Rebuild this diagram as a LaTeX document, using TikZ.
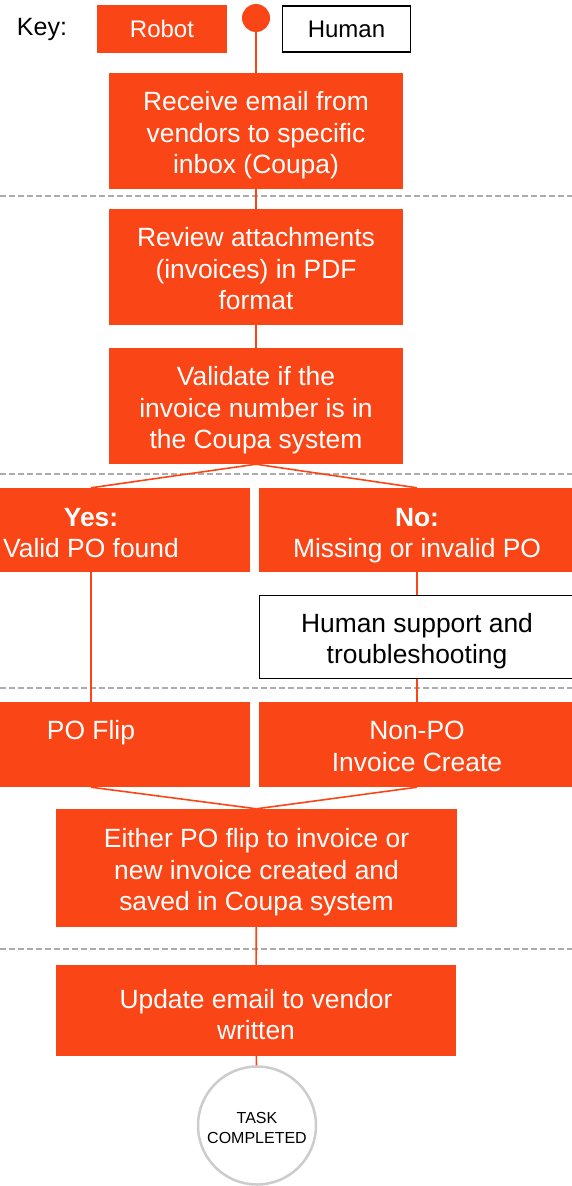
\documentclass[tikz,border=0pt]{standalone}
\usepackage{fontspec}
\setmainfont{Liberation Sans}
\usetikzlibrary{positioning}
\definecolor{pwcorange}{RGB}{250,70,22}
\definecolor{rulegray}{RGB}{172,172,172}
\definecolor{endgray}{RGB}{204,204,204}
\newcommand{\boxfont}{\fontsize{26.4}{31.7}\selectfont}
\newcommand{\keyfont}{\fontsize{24}{28}\selectfont}
\newcommand{\tp}{\rule{0pt}{28pt}}
\newcommand{\botstrut}{\rule[-6pt]{0pt}{6pt}}

\begin{document}
\begin{tikzpicture}[x=1pt,y=1pt,yscale=-1,xscale=1,
  robot/.style = {fill=pwcorange, text=white, inner sep=0pt,
  align=center, font=\boxfont, execute at end node=\botstrut},
  human/.style = {draw=black, line width=1.5pt, fill=white,
  text=black, inner sep=0pt, align=center, font=\boxfont,
  execute at end node=\botstrut},
  keybox/.style = {inner sep=0pt, font=\keyfont},
  flow/.style = {draw=pwcorange, line width=1.6pt},
  divider/.style = {draw=rulegray, line width=1.6pt,
  dash pattern=on 6pt off 3pt},
  done/.style = {draw=endgray, line width=2.5pt, circle, fill=white,
  inner sep=0pt, align=center, font=\fontsize{16}{20}\selectfont,
  execute at end node=\rule[-3.6pt]{0pt}{3.6pt}}
  ]
  \useasboundingbox (0,0) rectangle (572,1186);

  \foreach \y in {196,474,688,949}
    \draw[divider] (0,\y) -- (572,\y);

  \node[font=\fontsize{25}{30}\selectfont] (key) at (42,29) {Key:};
  \node[keybox, fill=pwcorange, text=white, minimum width=130pt, minimum height=48pt] (robotkey) at (162,29) {Robot};
  \node[fill=pwcorange, circle, minimum size=28pt, inner sep=0pt] (start) at (256,18) {};
  \node[keybox, draw=black, line width=1.5pt, minimum width=128pt, minimum height=46pt] (humankey) at (346.5,29) {Human};

  \node[robot, minimum width=294pt, minimum height=116pt] (receive) at (256,131) {\tp Receive email from\\vendors to specific\\inbox (Coupa)};
  \node[robot, minimum width=294pt, minimum height=116pt] (review) at (256,267) {\tp Review attachments\\(invoices) in PDF\\format};
  \node[robot, minimum width=294pt, minimum height=116pt] (validate) at (256,406) {\tp Validate if the\\invoice number is in\\the Coupa system};

  \node[robot, minimum width=318pt, minimum height=84pt] (yes) at (91,530) {\tp\rule{0pt}{30pt}\textbf{Yes:}\\Valid PO found};
  \node[robot, minimum width=316pt, minimum height=84pt] (no) at (417,530) {\tp\rule{0pt}{30pt}\textbf{No:}\\Missing or invalid PO};
  \node[human, minimum width=315pt, minimum height=83pt] (support) at (417,637) {\tp Human support and\\troubleshooting};

  \node[robot, minimum width=318pt, minimum height=85pt] (poflip) at (91,744.5) {\tp PO Flip\\\mbox{}};
  \node[robot, minimum width=316pt, minimum height=85pt] (nonpo) at (417,744.5) {\tp Non-PO\\Invoice Create};

  \node[robot, minimum width=401pt, minimum height=118pt] (saved) at (256.5,868) {\tp Either PO flip to invoice or\\new invoice created and\\saved in Coupa system};
  \node[robot, minimum width=400pt, minimum height=91pt] (update) at (256,1010.5) {\rule{0pt}{33pt}Update email to vendor\\written};
  \node[done, minimum size=118pt] (end) at (257,1125.5) {\rule{0pt}{20pt}TASK\\COMPLETED};

  \draw[flow] (start) -- (receive);
  \draw[flow] (receive) -- (review);
  \draw[flow] (review) -- (validate);
  \draw[flow] (validate.south) -- (yes.north);
  \draw[flow] (validate.south) -- (no.north);
  \draw[flow] (yes) -- (poflip);
  \draw[flow] (no) -- (support);
  \draw[flow] (support) -- (nonpo);
  \draw[flow] (poflip.south) -- (saved.north);
  \draw[flow] (nonpo.south) -- (saved.north);
  \draw[flow] (saved) -- (update);
  \draw[flow] (update) -- (end);

\end{tikzpicture}
\end{document}
